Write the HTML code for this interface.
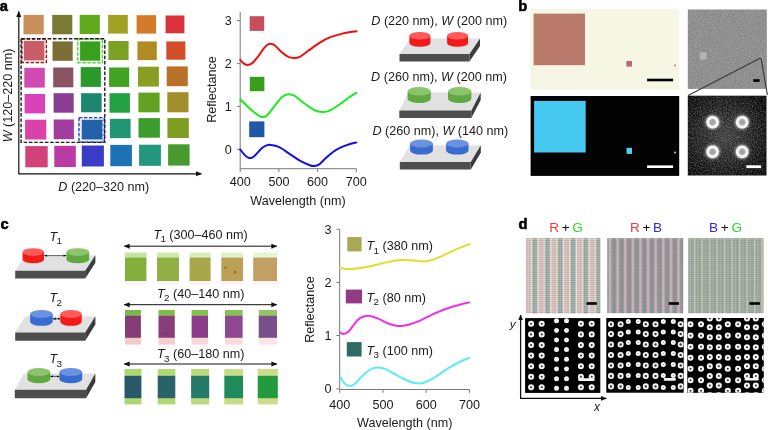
<!DOCTYPE html>
<html lang="en"><head><meta charset="utf-8"><title>Figure</title>
<style>html,body{margin:0;padding:0;background:#fff;}body{width:768px;height:430px;overflow:hidden;}svg{display:block;font-family:'Liberation Sans', Arial, sans-serif;}</style></head><body>
<svg width="768" height="430" viewBox="0 0 768 430">
<defs>
<marker id="ah" viewBox="0 0 10 10" refX="9" refY="5" markerWidth="6" markerHeight="5.6" orient="auto-start-reverse" preserveAspectRatio="none" markerUnits="userSpaceOnUse"><path d="M0 0.5 L10 5 L0 9.5 z" fill="#111"/></marker>
<marker id="ahs" viewBox="0 0 10 10" refX="9" refY="5" markerWidth="3" markerHeight="3" orient="auto-start-reverse" preserveAspectRatio="none" markerUnits="userSpaceOnUse"><path d="M0 1 L10 5 L0 9 z" fill="#111"/></marker>
<pattern id="pd1" width="12.76" height="1.9" patternUnits="userSpaceOnUse" x="525.8" y="238.1"><rect width="12.76" height="1.9" fill="#e4e4de"/><rect x="0.2" width="4.9" height="1.9" fill="#c7a7a5"/><rect x="2.35" width="0.6" height="1.9" fill="#dcc8c4"/><rect x="6.5" width="4.9" height="1.9" fill="#81908a"/><rect x="8.65" width="0.6" height="1.9" fill="#a9b6ae"/><rect x="0" y="1.35" width="12.76" height="0.55" fill="#f4f2ee" opacity="0.7"/></pattern>
<pattern id="pd2" width="7.62" height="1.9" patternUnits="userSpaceOnUse" x="608.85" y="238.1"><rect width="7.62" height="1.9" fill="#878d92"/><rect x="0" width="2.5" height="1.9" fill="#cbafb2"/><rect x="2.5" width="0.5" height="1.9" fill="#a89a9c"/><rect x="7.12" width="0.5" height="1.9" fill="#a89a9c"/><rect x="4.9" width="0.6" height="1.9" fill="#7d858e"/><rect x="0" y="1.35" width="7.62" height="0.55" fill="#c4c0c2" opacity="0.4"/></pattern>
<pattern id="pd3" width="7.5" height="1.9" patternUnits="userSpaceOnUse" x="686.3" y="238.1"><rect width="7.5" height="1.9" fill="#8f9b96"/><rect x="0" width="1.5" height="1.9" fill="#bec6ae"/><rect x="3.6" width="1.0" height="1.9" fill="#a4ada2"/><rect x="0" y="1.3" width="7.5" height="0.6" fill="#d2d6c4" opacity="0.5"/></pattern>
<radialGradient id="semglow" cx="0.47" cy="0.5" r="0.62"><stop offset="0" stop-color="#3c3c3c"/><stop offset="0.5" stop-color="#222"/><stop offset="1" stop-color="#060606"/></radialGradient>
<radialGradient id="ringg" cx="0.5" cy="0.5" r="0.5"><stop offset="0" stop-color="#9c9c9c"/><stop offset="0.36" stop-color="#acacac"/><stop offset="0.56" stop-color="#f6f6f6"/><stop offset="0.8" stop-color="#f4f4f4"/><stop offset="1" stop-color="#9a9a9a" stop-opacity="0.1"/></radialGradient>
<filter id="noiseTop" color-interpolation-filters="sRGB" x="0" y="0" width="100%" height="100%"><feTurbulence type="fractalNoise" baseFrequency="0.85" numOctaves="2" seed="3"/><feColorMatrix type="matrix" values="0.2 0 0 0 0.465  0.2 0 0 0 0.465  0.2 0 0 0 0.465  0 0 0 0 1"/><feComposite in2="SourceGraphic" operator="in"/></filter>
<filter id="noiseBot" color-interpolation-filters="sRGB" x="0" y="0" width="100%" height="100%"><feTurbulence type="fractalNoise" baseFrequency="0.8" numOctaves="2" seed="11"/><feColorMatrix type="matrix" values="0 0 0 0 1  0 0 0 0 1  0 0 0 0 1  1.2 0 0 0 -0.45"/><feComposite in2="SourceGraphic" operator="in"/></filter>
<filter id="halo" x="-50%" y="-50%" width="200%" height="200%"><feGaussianBlur stdDeviation="1.3"/></filter>
<filter id="soft"><feGaussianBlur stdDeviation="0.35"/></filter>
<filter id="soft2"><feGaussianBlur stdDeviation="0.5"/></filter>
</defs>
<rect width="768" height="430" fill="#fff"/>
<text x="-0.2" y="10.6" font-size="14.7" text-anchor="start" font-weight="bold" font-style="normal" fill="#000" stroke="#000" stroke-width="0.55" stroke-linejoin="round">a</text>
<g filter="url(#soft)">
<rect x="23.5" y="14.9" width="20.2" height="19.4" fill="#c98f5a" />
<rect x="52.2" y="14.9" width="20.1" height="19.4" fill="#7a7a30" />
<rect x="79.7" y="14.9" width="20.1" height="19.1" fill="#62a81a" />
<rect x="108.1" y="14.9" width="19.7" height="18.7" fill="#a3a022" />
<rect x="136.6" y="15.2" width="19.5" height="18.4" fill="#d27a2a" />
<rect x="165.6" y="15.5" width="18.8" height="17.8" fill="#d93238" />
<rect x="23.9" y="41" width="20.5" height="19.5" fill="#c85f68" />
<rect x="52.5" y="41.4" width="20.2" height="19.4" fill="#7a6e36" />
<rect x="80.1" y="41.4" width="20.1" height="19.3" fill="#38a01a" />
<rect x="108.4" y="41" width="20.2" height="19.1" fill="#7aa222" />
<rect x="137.4" y="41.4" width="19.4" height="18.7" fill="#b08c22" />
<rect x="166.3" y="41.4" width="19.1" height="18.3" fill="#d0502a" />
<rect x="24.3" y="67.8" width="20.5" height="19.8" fill="#d24ab2" />
<rect x="53.2" y="67.5" width="20.1" height="19.8" fill="#8a5262" />
<rect x="80.7" y="67.1" width="20.2" height="19.8" fill="#2a9a2a" />
<rect x="109.1" y="67.5" width="20.1" height="19.4" fill="#42a222" />
<rect x="138" y="66.7" width="20.9" height="19.9" fill="#8a9e22" />
<rect x="166.7" y="66.4" width="21.1" height="19.8" fill="#ba722a" />
<rect x="24.6" y="94" width="20.5" height="19.4" fill="#da42ba" />
<rect x="53.6" y="93.2" width="20.1" height="19.5" fill="#8a3e92" />
<rect x="81.1" y="93.2" width="20.5" height="19.1" fill="#1a866e" />
<rect x="109.5" y="93.2" width="20.4" height="19.5" fill="#22a242" />
<rect x="138.4" y="92.6" width="21.2" height="19.7" fill="#62a222" />
<rect x="167.3" y="92.2" width="21.2" height="20.1" fill="#a28e2a" />
<rect x="25.1" y="119.7" width="21.2" height="19.8" fill="#da42aa" />
<rect x="53.7" y="119.5" width="20.2" height="19.7" fill="#a23a9e" />
<rect x="81.7" y="119.7" width="21" height="19.8" fill="#2260aa" />
<rect x="109.9" y="118.8" width="20.7" height="19.4" fill="#229672" />
<rect x="138.5" y="118.1" width="21.4" height="19.6" fill="#3c9c2e" />
<rect x="167.4" y="118.1" width="21.4" height="19.9" fill="#7e9e22" />
<rect x="25.3" y="146.1" width="22.4" height="21.2" fill="#d2427a" />
<rect x="54.3" y="145.8" width="21.5" height="21.2" fill="#ba3aa2" />
<rect x="81.8" y="145.5" width="22.1" height="21" fill="#3a3aca" />
<rect x="110.3" y="144.9" width="21.6" height="21.3" fill="#1a72b2" />
<rect x="139.1" y="144.7" width="21.8" height="21.1" fill="#20967e" />
<rect x="168.1" y="144.3" width="21.5" height="21.3" fill="#489a2e" />
</g>
<rect x="22" y="39.1" width="24.3" height="23.4" fill="none" stroke="#9c1414" stroke-width="1.5" stroke-dasharray="3.4 1.6"/>
<rect x="23.15" y="40.25" width="22" height="21.1" fill="none" stroke="#fbdcdc" stroke-width="1.0" stroke-dasharray="3.4 1.6"/>
<rect x="77.8" y="39.1" width="24.6" height="23.7" fill="none" stroke="#50d23a" stroke-width="1.5" stroke-dasharray="3.4 1.6"/>
<rect x="78.95" y="40.25" width="22.3" height="21.4" fill="none" stroke="#e4f8d8" stroke-width="1.0" stroke-dasharray="3.4 1.6"/>
<rect x="79" y="117.8" width="25.2" height="24.1" fill="none" stroke="#2c3cc4" stroke-width="1.5" stroke-dasharray="3.4 1.6"/>
<rect x="80.15" y="118.95" width="22.9" height="21.8" fill="none" stroke="#d4dcf8" stroke-width="1.0" stroke-dasharray="3.4 1.6"/>
<rect x="21.1" y="38.7" width="83.7" height="103.7" fill="none" stroke="#1c1c1c" stroke-width="1.4" stroke-dasharray="3.6 1.7"/>
<path d="M18.8 11.6 V173.8 H201.4" fill="none" stroke="#111" stroke-width="1.2" marker-start="url(#ah)" marker-end="url(#ah)"/>
<text x="0" y="0" font-size="12.6" text-anchor="middle" font-weight="normal" font-style="normal" fill="#1a1a1a" transform="translate(11.5 95.4) rotate(-90)"><tspan font-style="italic">W</tspan> (120–220 nm)</text>
<text x="103.8" y="191.2" font-size="12.6" text-anchor="middle" font-weight="normal" font-style="normal" fill="#1a1a1a" ><tspan font-style="italic">D</tspan> (220–320 nm)</text>
<path d="M240.2 12 V168.7 H356.4" fill="none" stroke="#7a7a7a" stroke-width="1"/>
<path d="M237 20.6 H240.2" stroke="#7a7a7a" stroke-width="1"/>
<text x="231.8" y="24.9" font-size="12.6" text-anchor="end" font-weight="normal" font-style="normal" fill="#1a1a1a" >3</text>
<path d="M237 63.6 H240.2" stroke="#7a7a7a" stroke-width="1"/>
<text x="231.8" y="67.9" font-size="12.6" text-anchor="end" font-weight="normal" font-style="normal" fill="#1a1a1a" >2</text>
<path d="M237 106.4 H240.2" stroke="#7a7a7a" stroke-width="1"/>
<text x="231.8" y="110.7" font-size="12.6" text-anchor="end" font-weight="normal" font-style="normal" fill="#1a1a1a" >1</text>
<path d="M237 149.3 H240.2" stroke="#7a7a7a" stroke-width="1"/>
<text x="231.8" y="153.6" font-size="12.6" text-anchor="end" font-weight="normal" font-style="normal" fill="#1a1a1a" >0</text>
<path d="M240.2 168.7 V172" stroke="#7a7a7a" stroke-width="1"/>
<text x="240.2" y="186.4" font-size="12.6" text-anchor="middle" font-weight="normal" font-style="normal" fill="#1a1a1a" >400</text>
<path d="M278.9 168.7 V172" stroke="#7a7a7a" stroke-width="1"/>
<text x="278.9" y="186.4" font-size="12.6" text-anchor="middle" font-weight="normal" font-style="normal" fill="#1a1a1a" >500</text>
<path d="M317.6 168.7 V172" stroke="#7a7a7a" stroke-width="1"/>
<text x="317.6" y="186.4" font-size="12.6" text-anchor="middle" font-weight="normal" font-style="normal" fill="#1a1a1a" >600</text>
<path d="M356.3 168.7 V172" stroke="#7a7a7a" stroke-width="1"/>
<text x="356.3" y="186.4" font-size="12.6" text-anchor="middle" font-weight="normal" font-style="normal" fill="#1a1a1a" >700</text>
<text x="0" y="0" font-size="12.6" text-anchor="middle" font-weight="normal" font-style="normal" fill="#1a1a1a" transform="translate(215.5 89.5) rotate(-90)">Reflectance</text>
<text x="298" y="205" font-size="12.6" text-anchor="middle" font-weight="normal" font-style="normal" fill="#1a1a1a" >Wavelength (nm)</text>
<path d="M240.2 59.9 C240.75 60.48 242.3 62.57 243.5 63.4 C244.7 64.23 246 64.9 247.4 64.9 C248.8 64.9 250.17 64.73 251.9 63.4 C253.63 62.07 255.85 59.35 257.8 56.9 C259.75 54.45 261.98 50.72 263.6 48.7 C265.22 46.68 266.33 45.63 267.5 44.8 C268.67 43.97 269.42 43.63 270.6 43.7 C271.78 43.77 272.83 43.85 274.6 45.2 C276.37 46.55 278.98 49.88 281.2 51.8 C283.42 53.72 285.8 55.65 287.9 56.7 C290 57.75 291.83 58.07 293.8 58.1 C295.77 58.13 297.33 58.08 299.7 56.9 C302.07 55.72 304.65 53.38 308 51 C311.35 48.62 316.17 44.87 319.8 42.6 C323.43 40.33 325.9 38.93 329.8 37.4 C333.7 35.87 338.73 34.43 343.2 33.4 C347.67 32.37 354.37 31.57 356.6 31.2" fill="none" stroke="#f20d0d" stroke-width="2" stroke-linecap="round"/>
<path d="M240.3 99.3 C241.37 100.37 244.2 103.38 246.7 105.7 C249.2 108.02 253.08 111.43 255.3 113.2 C257.52 114.97 258.65 115.67 260 116.3 C261.35 116.93 262.2 117.18 263.4 117 C264.6 116.82 265.17 117.27 267.2 115.2 C269.23 113.13 273.13 107.63 275.6 104.6 C278.07 101.57 279.87 98.72 282 97 C284.13 95.28 286.25 94.47 288.4 94.3 C290.55 94.13 292.22 94.47 294.9 96 C297.58 97.53 301.3 101.17 304.5 103.5 C307.7 105.83 311.07 108.57 314.1 110 C317.13 111.43 320.02 112.03 322.7 112.1 C325.38 112.17 327.17 111.83 330.2 110.4 C333.23 108.97 337.7 105.72 340.9 103.5 C344.1 101.28 346.83 98.88 349.4 97.1 C351.97 95.32 355.15 93.52 356.3 92.8" fill="none" stroke="#18ee18" stroke-width="2" stroke-linecap="round"/>
<path d="M240.3 149.6 C241.02 150.48 243.28 153.57 244.6 154.9 C245.92 156.23 247.17 157.08 248.2 157.6 C249.23 158.12 249.8 158.23 250.8 158 C251.8 157.77 252.38 157.82 254.2 156.2 C256.02 154.58 259.73 150.07 261.7 148.3 C263.67 146.53 264.48 146.17 266 145.6 C267.52 145.03 268.67 144.7 270.8 144.9 C272.93 145.1 275.68 145.32 278.8 146.8 C281.92 148.28 285.93 151.45 289.5 153.8 C293.07 156.15 296.82 159 300.2 160.9 C303.58 162.8 307.48 164.35 309.8 165.2 C312.12 166.05 312.52 166.15 314.1 166 C315.68 165.85 317.33 165.62 319.3 164.3 C321.27 162.98 323.55 160.2 325.9 158.1 C328.25 156 330.9 153.48 333.4 151.7 C335.9 149.92 338.23 148.65 340.9 147.4 C343.57 146.15 346.83 145.02 349.4 144.2 C351.97 143.38 355.15 142.78 356.3 142.5" fill="none" stroke="#1010e8" stroke-width="2" stroke-linecap="round"/>
<rect x="249.7" y="16.2" width="14.5" height="14.7" fill="#c84e5e" />
<rect x="249.8" y="76.8" width="14.6" height="14.4" fill="#3a9e1c" />
<rect x="249.2" y="121.4" width="15.2" height="15.8" fill="#2058a6" />
<text x="439.2" y="25.2" font-size="12.6" text-anchor="middle" font-weight="normal" font-style="normal" fill="#1a1a1a" ><tspan font-style="italic">D</tspan> (220 nm), <tspan font-style="italic">W</tspan> (200 nm)</text>
<polygon points="410,38.5 480,38.5 469.5,54.1 399.5,54.1" fill="#e1e1e1"/>
<polygon points="399.5,54.1 469.5,54.1 469.5,61.6 399.5,61.6" fill="#4d4d4d"/>
<polygon points="469.5,54.1 480,38.5 480,46 469.5,61.6" fill="#3c3c3c"/>
<path d="M409.4 35.8 v7.2 a10.5 3.8 0 0 0 21 0 v-7.2 z" fill="#f41a1a"/>
<ellipse cx="419.9" cy="35.8" rx="10.5" ry="3.8" fill="#ff5a5a"/>
<path d="M447.1 35.8 v7.2 a10.5 3.8 0 0 0 21 0 v-7.2 z" fill="#f41a1a"/>
<ellipse cx="457.6" cy="35.8" rx="10.5" ry="3.8" fill="#ff5a5a"/>
<text x="439" y="81.2" font-size="12.6" text-anchor="middle" font-weight="normal" font-style="normal" fill="#1a1a1a" ><tspan font-style="italic">D</tspan> (260 nm), <tspan font-style="italic">W</tspan> (200 nm)</text>
<polygon points="408.6,92.6 480.7,92.6 471.4,110.6 399.3,110.6" fill="#e1e1e1"/>
<polygon points="399.3,110.6 471.4,110.6 471.4,118.1 399.3,118.1" fill="#4d4d4d"/>
<polygon points="471.4,110.6 480.7,92.6 480.7,100.1 471.4,118.1" fill="#3c3c3c"/>
<path d="M407.6 91.2 v7.5 a11.6 4.3 0 0 0 23.2 0 v-7.5 z" fill="#62a840"/>
<ellipse cx="419.2" cy="91.2" rx="11.6" ry="4.3" fill="#8cc46e"/>
<path d="M448 91.2 v7.5 a11.7 4.3 0 0 0 23.4 0 v-7.5 z" fill="#62a840"/>
<ellipse cx="459.7" cy="91.2" rx="11.7" ry="4.3" fill="#8cc46e"/>
<text x="440.3" y="134.9" font-size="12.6" text-anchor="middle" font-weight="normal" font-style="normal" fill="#1a1a1a" ><tspan font-style="italic">D</tspan> (260 nm), <tspan font-style="italic">W</tspan> (140 nm)</text>
<polygon points="409.8,145.3 480.8,145.3 470.8,162.1 399.8,162.1" fill="#e1e1e1"/>
<polygon points="399.8,162.1 470.8,162.1 470.8,169.6 399.8,169.6" fill="#4d4d4d"/>
<polygon points="470.8,162.1 480.8,145.3 480.8,152.8 470.8,169.6" fill="#3c3c3c"/>
<path d="M410.1 143.5 v7.1 a11.4 4 0 0 0 22.8 0 v-7.1 z" fill="#3a6cd0"/>
<ellipse cx="421.5" cy="143.5" rx="11.4" ry="4" fill="#6a92e0"/>
<path d="M446.1 143.5 v7.1 a11.2 4 0 0 0 22.4 0 v-7.1 z" fill="#3a6cd0"/>
<ellipse cx="457.3" cy="143.5" rx="11.2" ry="4" fill="#6a92e0"/>
<text x="518.2" y="10.6" font-size="14.7" text-anchor="start" font-weight="bold" font-style="normal" fill="#000" stroke="#000" stroke-width="0.55" stroke-linejoin="round">b</text>
<rect x="530.4" y="8.8" width="148.8" height="80.7" fill="#f6f6e4" />
<rect x="533.6" y="13.6" width="51.4" height="51.6" fill="#b97a6c" filter="url(#soft)"/>
<rect x="626.4" y="61" width="5.6" height="5.6" fill="#b56a78" filter="url(#soft)"/>
<circle cx="675" cy="65.6" r="1" fill="#c07a80"/>
<rect x="647.1" y="78.7" width="26" height="2.6" fill="#000" />
<rect x="530.6" y="96" width="148.6" height="79.9" fill="#030303" />
<rect x="534.1" y="100.9" width="51.6" height="51.6" fill="#45c9f0" filter="url(#soft)"/>
<rect x="626.5" y="147.8" width="5.5" height="6.1" fill="#52cdf0" filter="url(#soft)"/>
<circle cx="675" cy="152.6" r="1.1" fill="#58d8d8"/>
<rect x="647.1" y="165.4" width="26" height="2.6" fill="#fff" />
<rect x="687.9" y="9.7" width="78.7" height="79" fill="#909090" />
<rect x="687.9" y="9.7" width="78.7" height="79" fill="#909090" filter="url(#noiseTop)"/>
<rect x="699.8" y="52.4" width="6.8" height="7" fill="#b4b4b4" filter="url(#soft)"/>
<circle cx="761.2" cy="57.6" r="1.2" fill="#d0d0d0"/>
<path d="M688 95.4 L761 57.8 L767.4 95" fill="none" stroke="#3a3a3a" stroke-width="1.15" stroke-linejoin="round"/>
<rect x="753.3" y="79.2" width="6.3" height="2.7" fill="#000" />
<rect x="687.8" y="95.7" width="78.7" height="79.8" fill="url(#semglow)" />
<rect x="687.8" y="95.7" width="78.7" height="79.8" fill="#fff" filter="url(#noiseBot)" opacity="0.5"/>
<circle cx="712.6" cy="122.2" r="8" fill="#fff" opacity="0.35" filter="url(#halo)"/>
<circle cx="712.6" cy="122.2" r="7.3" fill="url(#ringg)"/>
<circle cx="712.6" cy="151.8" r="8" fill="#fff" opacity="0.35" filter="url(#halo)"/>
<circle cx="712.6" cy="151.8" r="7.3" fill="url(#ringg)"/>
<circle cx="742.2" cy="122.2" r="8" fill="#fff" opacity="0.35" filter="url(#halo)"/>
<circle cx="742.2" cy="122.2" r="7.3" fill="url(#ringg)"/>
<circle cx="742.2" cy="151.8" r="8" fill="#fff" opacity="0.35" filter="url(#halo)"/>
<circle cx="742.2" cy="151.8" r="7.3" fill="url(#ringg)"/>
<rect x="746.3" y="165.3" width="14.9" height="2.8" fill="#fff" />
<text x="0.4" y="228.7" font-size="14.7" text-anchor="start" font-weight="bold" font-style="normal" fill="#000" stroke="#000" stroke-width="0.55" stroke-linejoin="round">c</text>
<text x="49.6" y="240.8" font-size="12.6" text-anchor="start" font-weight="normal" font-style="normal" fill="#1a1a1a" ><tspan font-style="italic">T</tspan><tspan font-size="9.83" dy="3.3" dx="-0.7">1</tspan><tspan dy="-3.3"></tspan></text>
<polygon points="25.4,255.2 95.4,255.2 85.2,270.8 15.2,270.8" fill="#e1e1e1"/>
<polygon points="15.2,270.8 85.2,270.8 85.2,278.4 15.2,278.4" fill="#4d4d4d"/>
<polygon points="85.2,270.8 95.4,255.2 95.4,262.8 85.2,278.4" fill="#3c3c3c"/>
<path d="M22.6 252.1 v7.3 a10.7 3.9 0 0 0 21.4 0 v-7.3 z" fill="#f41a1a"/>
<ellipse cx="33.3" cy="252.1" rx="10.7" ry="3.9" fill="#ff5a5a"/>
<path d="M66.5 252.1 v7.3 a11.3 3.9 0 0 0 22.6 0 v-7.3 z" fill="#62a840"/>
<ellipse cx="77.8" cy="252.1" rx="11.3" ry="3.9" fill="#8cc46e"/>
<path d="M44.4 255.6 H66.2" stroke="#555" stroke-width="0.9" marker-start="url(#ahs)" marker-end="url(#ahs)"/>
<text x="49.6" y="302.2" font-size="12.6" text-anchor="start" font-weight="normal" font-style="normal" fill="#1a1a1a" ><tspan font-style="italic">T</tspan><tspan font-size="9.83" dy="3.3" dx="-0.7">2</tspan><tspan dy="-3.3"></tspan></text>
<polygon points="25.4,316.3 95.4,316.3 85.2,332.6 15.2,332.6" fill="#e1e1e1"/>
<polygon points="15.2,332.6 85.2,332.6 85.2,340.8 15.2,340.8" fill="#4d4d4d"/>
<polygon points="85.2,332.6 95.4,316.3 95.4,324.5 85.2,340.8" fill="#3c3c3c"/>
<path d="M30.1 314 v7.8 a11.3 4 0 0 0 22.6 0 v-7.8 z" fill="#3a6cd0"/>
<ellipse cx="41.4" cy="314" rx="11.3" ry="4" fill="#6a92e0"/>
<path d="M60.3 314 v7.8 a10.7 4 0 0 0 21.4 0 v-7.8 z" fill="#f41a1a"/>
<ellipse cx="71" cy="314" rx="10.7" ry="4" fill="#ff5a5a"/>
<path d="M52.9 318.8 H60.2" stroke="#333" stroke-width="0.8" marker-start="url(#ahs)" marker-end="url(#ahs)"/>
<text x="49.6" y="363.2" font-size="12.6" text-anchor="start" font-weight="normal" font-style="normal" fill="#1a1a1a" ><tspan font-style="italic">T</tspan><tspan font-size="9.83" dy="3.3" dx="-0.7">3</tspan><tspan dy="-3.3"></tspan></text>
<polygon points="24,373.4 95.3,373.4 86.1,389.7 14.8,389.7" fill="#e1e1e1"/>
<polygon points="14.8,389.7 86.1,389.7 86.1,398.3 14.8,398.3" fill="#4d4d4d"/>
<polygon points="86.1,389.7 95.3,373.4 95.3,382 86.1,398.3" fill="#3c3c3c"/>
<path d="M27.5 372 v7.2 a11.4 4 0 0 0 22.8 0 v-7.2 z" fill="#62a840"/>
<ellipse cx="38.9" cy="372" rx="11.4" ry="4" fill="#8cc46e"/>
<path d="M59.4 372 v7.2 a11.4 4 0 0 0 22.8 0 v-7.2 z" fill="#3a6cd0"/>
<ellipse cx="70.8" cy="372" rx="11.4" ry="4" fill="#6a92e0"/>
<path d="M50.5 376.4 H59.2" stroke="#333" stroke-width="0.8" marker-start="url(#ahs)" marker-end="url(#ahs)"/>
<text x="200.6" y="239" font-size="12.6" text-anchor="middle" font-weight="normal" font-style="normal" fill="#1a1a1a" ><tspan font-style="italic">T</tspan><tspan font-size="9.83" dy="3.3" dx="-0.7">1</tspan><tspan dy="-3.3"> (300–460 nm)</tspan></text>
<path d="M124.2 246.2 H276.8" stroke="#111" stroke-width="1" marker-start="url(#ah)" marker-end="url(#ah)"/>
<g filter="url(#soft)">
<rect x="125" y="252.6" width="21.4" height="5.6" fill="#c4e69c" />
<rect x="125" y="257.6" width="21.4" height="23.6" fill="#82b03a" />
<rect x="125" y="281.2" width="21.4" height="3.8" fill="#fef3f5" />
<rect x="157" y="252.6" width="22" height="5.6" fill="#cdeaa8" />
<rect x="157" y="257.6" width="22" height="23.6" fill="#90b044" />
<rect x="157" y="281.2" width="22" height="3.8" fill="#fef3f5" />
<rect x="189.6" y="252.6" width="21" height="5.6" fill="#d6eeb8" />
<rect x="189.6" y="257.6" width="21" height="23.6" fill="#a8a84c" />
<rect x="189.6" y="281.2" width="21" height="3.8" fill="#fef3f5" />
<rect x="221.3" y="252.6" width="21.8" height="5.6" fill="#dff2c8" />
<rect x="221.3" y="257.6" width="21.8" height="23.6" fill="#baa156" />
<rect x="221.3" y="281.2" width="21.8" height="3.8" fill="#fef3f5" />
<rect x="253.2" y="252.6" width="23.8" height="5.6" fill="#e6f5d4" />
<rect x="253.2" y="257.6" width="23.8" height="23.6" fill="#c2a064" />
<rect x="253.2" y="281.2" width="23.8" height="3.8" fill="#fef3f5" />
<circle cx="225.4" cy="267.6" r="1.2" fill="#8c7624"/><circle cx="235" cy="272" r="1.5" fill="#8c7624"/>
</g>
<text x="200.8" y="298" font-size="12.6" text-anchor="middle" font-weight="normal" font-style="normal" fill="#1a1a1a" ><tspan font-style="italic">T</tspan><tspan font-size="9.83" dy="3.3" dx="-0.7">2</tspan><tspan dy="-3.3"> (40–140 nm)</tspan></text>
<path d="M124.2 304.7 H276.8" stroke="#111" stroke-width="1" marker-start="url(#ah)" marker-end="url(#ah)"/>
<g filter="url(#soft)">
<rect x="125" y="310" width="15.9" height="6.2" fill="#7cb848" />
<rect x="125" y="315.8" width="15.9" height="22.2" fill="#843c78" />
<rect x="125" y="337.8" width="15.9" height="6.8" fill="#f2cbc6" />
<rect x="158.5" y="310" width="16.3" height="6.2" fill="#80ba4c" />
<rect x="158.5" y="315.8" width="16.3" height="22.2" fill="#8a3e7c" />
<rect x="158.5" y="337.8" width="16.3" height="6.8" fill="#f4cfcc" />
<rect x="191.6" y="310" width="16.4" height="6.2" fill="#86be50" />
<rect x="191.6" y="315.8" width="16.4" height="22.2" fill="#8c3e8a" />
<rect x="191.6" y="337.8" width="16.4" height="6.8" fill="#f8d8d8" />
<rect x="225" y="310" width="17.6" height="6.2" fill="#88c058" />
<rect x="225" y="315.8" width="17.6" height="22.2" fill="#904692" />
<rect x="225" y="337.8" width="17.6" height="6.8" fill="#f9dcdc" />
<rect x="258.7" y="310" width="18.3" height="6.2" fill="#94c466" />
<rect x="258.7" y="315.8" width="18.3" height="22.2" fill="#78508a" />
<rect x="258.7" y="337.8" width="18.3" height="6.8" fill="#fbe4e6" />
<circle cx="165.3" cy="333.2" r="1.4" fill="#6a2c6a" opacity="0.7"/>
</g>
<text x="200.8" y="358.4" font-size="12.6" text-anchor="middle" font-weight="normal" font-style="normal" fill="#1a1a1a" ><tspan font-style="italic">T</tspan><tspan font-size="9.83" dy="3.3" dx="-0.7">3</tspan><tspan dy="-3.3"> (60–180 nm)</tspan></text>
<path d="M124.2 364 H276.8" stroke="#111" stroke-width="1" marker-start="url(#ah)" marker-end="url(#ah)"/>
<g filter="url(#soft)">
<rect x="124.5" y="369" width="16.9" height="7.2" fill="#acd870" />
<rect x="124.5" y="398" width="16.9" height="6.4" fill="#acd870" />
<rect x="124.5" y="375.8" width="16.9" height="22.4" fill="#2c586a" />
<rect x="157.7" y="369" width="17.6" height="7.2" fill="#b2d874" />
<rect x="157.7" y="398" width="17.6" height="6.4" fill="#b2d874" />
<rect x="157.7" y="375.8" width="17.6" height="22.4" fill="#2c626a" />
<rect x="191.1" y="369" width="18.1" height="7.2" fill="#bcda7c" />
<rect x="191.1" y="398" width="18.1" height="6.4" fill="#bcda7c" />
<rect x="191.1" y="375.8" width="18.1" height="22.4" fill="#287a6a" />
<rect x="224.3" y="369" width="18.8" height="7.2" fill="#c8dc86" />
<rect x="224.3" y="398" width="18.8" height="6.4" fill="#c8dc86" />
<rect x="224.3" y="375.8" width="18.8" height="22.4" fill="#208a5a" />
<rect x="257.7" y="369" width="20.1" height="7.2" fill="#ccdc8a" />
<rect x="257.7" y="398" width="20.1" height="6.4" fill="#ccdc8a" />
<rect x="257.7" y="375.8" width="20.1" height="22.4" fill="#209a3c" />
</g>
<path d="M339.7 229.3 V389.5 H469.6" fill="none" stroke="#7a7a7a" stroke-width="1"/>
<path d="M336.4 229.3 H339.7" stroke="#7a7a7a" stroke-width="1"/>
<text x="331.6" y="233.7" font-size="12.6" text-anchor="end" font-weight="normal" font-style="normal" fill="#1a1a1a" >3</text>
<path d="M336.4 282.4 H339.7" stroke="#7a7a7a" stroke-width="1"/>
<text x="331.6" y="286.8" font-size="12.6" text-anchor="end" font-weight="normal" font-style="normal" fill="#1a1a1a" >2</text>
<path d="M336.4 335.5 H339.7" stroke="#7a7a7a" stroke-width="1"/>
<text x="331.6" y="339.9" font-size="12.6" text-anchor="end" font-weight="normal" font-style="normal" fill="#1a1a1a" >1</text>
<path d="M336.4 388.9 H339.7" stroke="#7a7a7a" stroke-width="1"/>
<text x="331.6" y="393.3" font-size="12.6" text-anchor="end" font-weight="normal" font-style="normal" fill="#1a1a1a" >0</text>
<path d="M339.7 389.5 V392.8" stroke="#7a7a7a" stroke-width="1"/>
<text x="339.7" y="408.8" font-size="12.6" text-anchor="middle" font-weight="normal" font-style="normal" fill="#1a1a1a" >400</text>
<path d="M383 389.5 V392.8" stroke="#7a7a7a" stroke-width="1"/>
<text x="383" y="408.8" font-size="12.6" text-anchor="middle" font-weight="normal" font-style="normal" fill="#1a1a1a" >500</text>
<path d="M426.2 389.5 V392.8" stroke="#7a7a7a" stroke-width="1"/>
<text x="426.2" y="408.8" font-size="12.6" text-anchor="middle" font-weight="normal" font-style="normal" fill="#1a1a1a" >600</text>
<path d="M469.5 389.5 V392.8" stroke="#7a7a7a" stroke-width="1"/>
<text x="469.5" y="408.8" font-size="12.6" text-anchor="middle" font-weight="normal" font-style="normal" fill="#1a1a1a" >700</text>
<text x="0" y="0" font-size="12.6" text-anchor="middle" font-weight="normal" font-style="normal" fill="#1a1a1a" transform="translate(314.2 309.6) rotate(-90)">Reflectance</text>
<text x="404.8" y="426.7" font-size="12.6" text-anchor="middle" font-weight="normal" font-style="normal" fill="#1a1a1a" >Wavelength (nm)</text>
<path d="M339.9 267.7 C341.02 267.9 343.75 268.77 346.6 268.9 C349.45 269.03 352.82 268.98 357 268.5 C361.18 268.02 366.82 267.02 371.7 266 C376.58 264.98 382.25 263.33 386.3 262.4 C390.35 261.47 393.22 260.82 396 260.4 C398.78 259.98 400.08 259.88 403 259.9 C405.92 259.92 410.67 260.27 413.5 260.5 C416.33 260.73 418 261.18 420 261.3 C422 261.42 423.1 261.57 425.5 261.2 C427.9 260.83 430.82 260.37 434.4 259.1 C437.98 257.83 442.82 255.48 447 253.6 C451.18 251.72 455.73 249.37 459.5 247.8 C463.27 246.23 467.92 244.8 469.6 244.2" fill="none" stroke="#e2dc2c" stroke-width="2" stroke-linecap="round"/>
<path d="M340.3 332.7 C340.65 332.88 341.62 333.65 342.4 333.8 C343.18 333.95 343.88 334.07 345 333.6 C346.12 333.13 347.25 332.95 349.1 331 C350.95 329.05 354.28 324.03 356.1 321.9 C357.92 319.77 358.6 319.15 360 318.2 C361.4 317.25 362.83 316.58 364.5 316.2 C366.17 315.82 367.72 315.5 370 315.9 C372.28 316.3 375.28 317.38 378.2 318.6 C381.12 319.82 384.7 322.05 387.5 323.2 C390.3 324.35 392.75 325.03 395 325.5 C397.25 325.97 398.77 326.12 401 326 C403.23 325.88 405.23 325.7 408.4 324.8 C411.57 323.9 416.12 322.27 420 320.6 C423.88 318.93 427.43 316.73 431.7 314.8 C435.97 312.87 440.95 310.67 445.6 309 C450.25 307.33 455.65 305.9 459.6 304.8 C463.55 303.7 467.68 302.8 469.3 302.4" fill="none" stroke="#ee30ee" stroke-width="2" stroke-linecap="round"/>
<path d="M340.3 376.9 C340.85 377.82 342.42 381 343.6 382.4 C344.78 383.8 346.23 384.73 347.4 385.3 C348.57 385.87 349.43 385.97 350.6 385.8 C351.77 385.63 352.32 386.07 354.4 384.3 C356.48 382.53 360.3 377.75 363.1 375.2 C365.9 372.65 369.22 370.23 371.2 369 C373.18 367.77 373.67 368.05 375 367.8 C376.33 367.55 377.32 367.23 379.2 367.5 C381.08 367.77 383.37 368.12 386.3 369.4 C389.23 370.68 393.12 373.27 396.8 375.2 C400.48 377.13 405.37 379.7 408.4 381 C411.43 382.3 413.07 382.6 415 383 C416.93 383.4 418 383.65 420 383.4 C422 383.15 424.28 382.67 427 381.5 C429.72 380.33 432.8 378.6 436.3 376.4 C439.8 374.2 444.12 370.7 448 368.3 C451.88 365.9 456.05 363.75 459.6 362 C463.15 360.25 467.68 358.5 469.3 357.8" fill="none" stroke="#58ecf4" stroke-width="2" stroke-linecap="round"/>
<rect x="347.3" y="237.1" width="14.3" height="14.3" fill="#a9a954" />
<text x="366.6" y="250.2" font-size="12.6" text-anchor="start" font-weight="normal" font-style="normal" fill="#1a1a1a" ><tspan font-style="italic">T</tspan><tspan font-size="9.83" dy="3.3" dx="-0.7">1</tspan><tspan dy="-3.3"> (380 nm)</tspan></text>
<rect x="345.8" y="289.6" width="16.3" height="13.8" fill="#923c86" />
<text x="366.6" y="301.8" font-size="12.6" text-anchor="start" font-weight="normal" font-style="normal" fill="#1a1a1a" ><tspan font-style="italic">T</tspan><tspan font-size="9.83" dy="3.3" dx="-0.7">2</tspan><tspan dy="-3.3"> (80 nm)</tspan></text>
<rect x="346.8" y="342.1" width="14.8" height="14.4" fill="#2c6c64" />
<text x="366.6" y="354.8" font-size="12.6" text-anchor="start" font-weight="normal" font-style="normal" fill="#1a1a1a" ><tspan font-style="italic">T</tspan><tspan font-size="9.83" dy="3.3" dx="-0.7">3</tspan><tspan dy="-3.3"> (100 nm)</tspan></text>
<text x="518.4" y="228.8" font-size="14.7" text-anchor="start" font-weight="bold" font-style="normal" fill="#000" stroke="#000" stroke-width="0.55" stroke-linejoin="round">d</text>
<text x="566" y="231.8" font-size="13.6" text-anchor="middle" font-weight="normal" font-style="normal" fill="#111" word-spacing="-1.1"><tspan fill="#f03a3a">R</tspan> + <tspan fill="#22dd22">G</tspan></text>
<text x="646" y="231.6" font-size="13.6" text-anchor="middle" font-weight="normal" font-style="normal" fill="#111" word-spacing="-1.1"><tspan fill="#f03a3a">R</tspan> + <tspan fill="#2a2ae6">B</tspan></text>
<text x="725.6" y="231.6" font-size="13.6" text-anchor="middle" font-weight="normal" font-style="normal" fill="#111" word-spacing="-1.1"><tspan fill="#2a2ae6">B</tspan> + <tspan fill="#22dd22">G</tspan></text>
<rect x="525.6" y="238.1" width="74.8" height="75.3" fill="url(#pd1)" />
<rect x="607.2" y="238.1" width="76" height="75.1" fill="url(#pd2)" />
<rect x="688.2" y="238.1" width="75.4" height="75.1" fill="url(#pd3)" />
<rect x="586.6" y="302.2" width="10.2" height="2.6" fill="#000" />
<rect x="668.7" y="302.2" width="10.3" height="2.6" fill="#000" />
<rect x="749.3" y="302.2" width="10.6" height="2.6" fill="#000" />
<clipPath id="c1"><rect x="525.1" y="318.1" width="75.2" height="74.8"/></clipPath>
<clipPath id="c2"><rect x="606.3" y="318" width="77.4" height="74.7"/></clipPath>
<clipPath id="c3"><rect x="687.3" y="318" width="76.5" height="74.8"/></clipPath>
<rect x="525.1" y="318.1" width="75.2" height="74.8" fill="#000" />
<rect x="606.3" y="318" width="77.4" height="74.7" fill="#000" />
<rect x="687.3" y="318" width="76.5" height="74.8" fill="#000" />
<g clip-path="url(#c1)">
<circle cx="531.1" cy="323.7" r="2.05" fill="#3c3c3c" stroke="#f4f4f4" stroke-width="2"/>
<circle cx="531.1" cy="334.4" r="2.05" fill="#3c3c3c" stroke="#f4f4f4" stroke-width="2"/>
<circle cx="531.1" cy="345.1" r="2.05" fill="#3c3c3c" stroke="#f4f4f4" stroke-width="2"/>
<circle cx="531.1" cy="355.6" r="2.05" fill="#3c3c3c" stroke="#f4f4f4" stroke-width="2"/>
<circle cx="531.1" cy="366.2" r="2.05" fill="#3c3c3c" stroke="#f4f4f4" stroke-width="2"/>
<circle cx="531.1" cy="376.8" r="2.05" fill="#3c3c3c" stroke="#f4f4f4" stroke-width="2"/>
<circle cx="531.1" cy="387.3" r="2.05" fill="#3c3c3c" stroke="#f4f4f4" stroke-width="2"/>
<circle cx="541.7" cy="323.7" r="2.05" fill="#3c3c3c" stroke="#f4f4f4" stroke-width="2"/>
<circle cx="541.7" cy="334.4" r="2.05" fill="#3c3c3c" stroke="#f4f4f4" stroke-width="2"/>
<circle cx="541.7" cy="345.1" r="2.05" fill="#3c3c3c" stroke="#f4f4f4" stroke-width="2"/>
<circle cx="541.7" cy="355.6" r="2.05" fill="#3c3c3c" stroke="#f4f4f4" stroke-width="2"/>
<circle cx="541.7" cy="366.2" r="2.05" fill="#3c3c3c" stroke="#f4f4f4" stroke-width="2"/>
<circle cx="541.7" cy="376.8" r="2.05" fill="#3c3c3c" stroke="#f4f4f4" stroke-width="2"/>
<circle cx="541.7" cy="387.3" r="2.05" fill="#3c3c3c" stroke="#f4f4f4" stroke-width="2"/>
<circle cx="580.9" cy="323.7" r="2.05" fill="#3c3c3c" stroke="#f4f4f4" stroke-width="2"/>
<circle cx="580.9" cy="334.4" r="2.05" fill="#3c3c3c" stroke="#f4f4f4" stroke-width="2"/>
<circle cx="580.9" cy="345.1" r="2.05" fill="#3c3c3c" stroke="#f4f4f4" stroke-width="2"/>
<circle cx="580.9" cy="355.6" r="2.05" fill="#3c3c3c" stroke="#f4f4f4" stroke-width="2"/>
<circle cx="580.9" cy="366.2" r="2.05" fill="#3c3c3c" stroke="#f4f4f4" stroke-width="2"/>
<circle cx="580.9" cy="376.8" r="2.05" fill="#3c3c3c" stroke="#f4f4f4" stroke-width="2"/>
<circle cx="580.9" cy="387.3" r="2.05" fill="#3c3c3c" stroke="#f4f4f4" stroke-width="2"/>
<circle cx="591.7" cy="323.7" r="2.05" fill="#3c3c3c" stroke="#f4f4f4" stroke-width="2"/>
<circle cx="591.7" cy="334.4" r="2.05" fill="#3c3c3c" stroke="#f4f4f4" stroke-width="2"/>
<circle cx="591.7" cy="345.1" r="2.05" fill="#3c3c3c" stroke="#f4f4f4" stroke-width="2"/>
<circle cx="591.7" cy="355.6" r="2.05" fill="#3c3c3c" stroke="#f4f4f4" stroke-width="2"/>
<circle cx="591.7" cy="366.2" r="2.05" fill="#3c3c3c" stroke="#f4f4f4" stroke-width="2"/>
<circle cx="591.7" cy="376.8" r="2.05" fill="#3c3c3c" stroke="#f4f4f4" stroke-width="2"/>
<circle cx="591.7" cy="387.3" r="2.05" fill="#3c3c3c" stroke="#f4f4f4" stroke-width="2"/>
<circle cx="556.5" cy="320.7" r="1.45" fill="#c8c8c8" stroke="#f4f4f4" stroke-width="2.1"/>
<circle cx="556.5" cy="330.5" r="1.45" fill="#c8c8c8" stroke="#f4f4f4" stroke-width="2.1"/>
<circle cx="556.5" cy="340" r="1.45" fill="#c8c8c8" stroke="#f4f4f4" stroke-width="2.1"/>
<circle cx="556.5" cy="349.6" r="1.45" fill="#c8c8c8" stroke="#f4f4f4" stroke-width="2.1"/>
<circle cx="556.5" cy="359.2" r="1.45" fill="#c8c8c8" stroke="#f4f4f4" stroke-width="2.1"/>
<circle cx="556.5" cy="369" r="1.45" fill="#c8c8c8" stroke="#f4f4f4" stroke-width="2.1"/>
<circle cx="556.5" cy="378.8" r="1.45" fill="#c8c8c8" stroke="#f4f4f4" stroke-width="2.1"/>
<circle cx="556.5" cy="388.2" r="1.45" fill="#c8c8c8" stroke="#f4f4f4" stroke-width="2.1"/>
<circle cx="566.5" cy="320.7" r="1.45" fill="#c8c8c8" stroke="#f4f4f4" stroke-width="2.1"/>
<circle cx="566.5" cy="330.5" r="1.45" fill="#c8c8c8" stroke="#f4f4f4" stroke-width="2.1"/>
<circle cx="566.5" cy="340" r="1.45" fill="#c8c8c8" stroke="#f4f4f4" stroke-width="2.1"/>
<circle cx="566.5" cy="349.6" r="1.45" fill="#c8c8c8" stroke="#f4f4f4" stroke-width="2.1"/>
<circle cx="566.5" cy="359.2" r="1.45" fill="#c8c8c8" stroke="#f4f4f4" stroke-width="2.1"/>
<circle cx="566.5" cy="369" r="1.45" fill="#c8c8c8" stroke="#f4f4f4" stroke-width="2.1"/>
<circle cx="566.5" cy="378.8" r="1.45" fill="#c8c8c8" stroke="#f4f4f4" stroke-width="2.1"/>
<circle cx="566.5" cy="388.2" r="1.45" fill="#c8c8c8" stroke="#f4f4f4" stroke-width="2.1"/>
</g>
<rect x="578.2" y="378.3" width="16.5" height="2.6" rx="1.2" fill="#f6f6f6"/>
<g clip-path="url(#c2)">
<circle cx="611" cy="324.2" r="2.15" fill="#3c3c3c" stroke="#f4f4f4" stroke-width="1.8"/>
<circle cx="611" cy="334.1" r="2.15" fill="#3c3c3c" stroke="#f4f4f4" stroke-width="1.8"/>
<circle cx="611" cy="344.5" r="2.15" fill="#3c3c3c" stroke="#f4f4f4" stroke-width="1.8"/>
<circle cx="611" cy="355" r="2.15" fill="#3c3c3c" stroke="#f4f4f4" stroke-width="1.8"/>
<circle cx="611" cy="365.5" r="2.15" fill="#3c3c3c" stroke="#f4f4f4" stroke-width="1.8"/>
<circle cx="611" cy="375.9" r="2.15" fill="#3c3c3c" stroke="#f4f4f4" stroke-width="1.8"/>
<circle cx="611" cy="386.4" r="2.15" fill="#3c3c3c" stroke="#f4f4f4" stroke-width="1.8"/>
<circle cx="620.6" cy="324.2" r="2.15" fill="#3c3c3c" stroke="#f4f4f4" stroke-width="1.8"/>
<circle cx="620.6" cy="334.1" r="2.15" fill="#3c3c3c" stroke="#f4f4f4" stroke-width="1.8"/>
<circle cx="620.6" cy="344.5" r="2.15" fill="#3c3c3c" stroke="#f4f4f4" stroke-width="1.8"/>
<circle cx="620.6" cy="355" r="2.15" fill="#3c3c3c" stroke="#f4f4f4" stroke-width="1.8"/>
<circle cx="620.6" cy="365.5" r="2.15" fill="#3c3c3c" stroke="#f4f4f4" stroke-width="1.8"/>
<circle cx="620.6" cy="375.9" r="2.15" fill="#3c3c3c" stroke="#f4f4f4" stroke-width="1.8"/>
<circle cx="620.6" cy="386.4" r="2.15" fill="#3c3c3c" stroke="#f4f4f4" stroke-width="1.8"/>
<circle cx="645.8" cy="324.2" r="2.15" fill="#3c3c3c" stroke="#f4f4f4" stroke-width="1.8"/>
<circle cx="645.8" cy="334.1" r="2.15" fill="#3c3c3c" stroke="#f4f4f4" stroke-width="1.8"/>
<circle cx="645.8" cy="344.5" r="2.15" fill="#3c3c3c" stroke="#f4f4f4" stroke-width="1.8"/>
<circle cx="645.8" cy="355" r="2.15" fill="#3c3c3c" stroke="#f4f4f4" stroke-width="1.8"/>
<circle cx="645.8" cy="365.5" r="2.15" fill="#3c3c3c" stroke="#f4f4f4" stroke-width="1.8"/>
<circle cx="645.8" cy="375.9" r="2.15" fill="#3c3c3c" stroke="#f4f4f4" stroke-width="1.8"/>
<circle cx="645.8" cy="386.4" r="2.15" fill="#3c3c3c" stroke="#f4f4f4" stroke-width="1.8"/>
<circle cx="655.5" cy="324.2" r="2.15" fill="#3c3c3c" stroke="#f4f4f4" stroke-width="1.8"/>
<circle cx="655.5" cy="334.1" r="2.15" fill="#3c3c3c" stroke="#f4f4f4" stroke-width="1.8"/>
<circle cx="655.5" cy="344.5" r="2.15" fill="#3c3c3c" stroke="#f4f4f4" stroke-width="1.8"/>
<circle cx="655.5" cy="355" r="2.15" fill="#3c3c3c" stroke="#f4f4f4" stroke-width="1.8"/>
<circle cx="655.5" cy="365.5" r="2.15" fill="#3c3c3c" stroke="#f4f4f4" stroke-width="1.8"/>
<circle cx="655.5" cy="375.9" r="2.15" fill="#3c3c3c" stroke="#f4f4f4" stroke-width="1.8"/>
<circle cx="655.5" cy="386.4" r="2.15" fill="#3c3c3c" stroke="#f4f4f4" stroke-width="1.8"/>
<circle cx="680.7" cy="324.2" r="2.15" fill="#3c3c3c" stroke="#f4f4f4" stroke-width="1.8"/>
<circle cx="680.7" cy="334.1" r="2.15" fill="#3c3c3c" stroke="#f4f4f4" stroke-width="1.8"/>
<circle cx="680.7" cy="344.5" r="2.15" fill="#3c3c3c" stroke="#f4f4f4" stroke-width="1.8"/>
<circle cx="680.7" cy="355" r="2.15" fill="#3c3c3c" stroke="#f4f4f4" stroke-width="1.8"/>
<circle cx="680.7" cy="365.5" r="2.15" fill="#3c3c3c" stroke="#f4f4f4" stroke-width="1.8"/>
<circle cx="680.7" cy="375.9" r="2.15" fill="#3c3c3c" stroke="#f4f4f4" stroke-width="1.8"/>
<circle cx="680.7" cy="386.4" r="2.15" fill="#3c3c3c" stroke="#f4f4f4" stroke-width="1.8"/>
<circle cx="628.3" cy="321.5" r="1.55" fill="#909090" stroke="#f4f4f4" stroke-width="1.9"/>
<circle cx="628.3" cy="332" r="1.55" fill="#909090" stroke="#f4f4f4" stroke-width="1.9"/>
<circle cx="628.3" cy="342.4" r="1.55" fill="#909090" stroke="#f4f4f4" stroke-width="1.9"/>
<circle cx="628.3" cy="353.6" r="1.55" fill="#909090" stroke="#f4f4f4" stroke-width="1.9"/>
<circle cx="628.3" cy="364.4" r="1.55" fill="#909090" stroke="#f4f4f4" stroke-width="1.9"/>
<circle cx="628.3" cy="375.6" r="1.55" fill="#909090" stroke="#f4f4f4" stroke-width="1.9"/>
<circle cx="628.3" cy="387.4" r="1.55" fill="#909090" stroke="#f4f4f4" stroke-width="1.9"/>
<circle cx="638.2" cy="321.5" r="1.55" fill="#909090" stroke="#f4f4f4" stroke-width="1.9"/>
<circle cx="638.2" cy="332" r="1.55" fill="#909090" stroke="#f4f4f4" stroke-width="1.9"/>
<circle cx="638.2" cy="342.4" r="1.55" fill="#909090" stroke="#f4f4f4" stroke-width="1.9"/>
<circle cx="638.2" cy="353.6" r="1.55" fill="#909090" stroke="#f4f4f4" stroke-width="1.9"/>
<circle cx="638.2" cy="364.4" r="1.55" fill="#909090" stroke="#f4f4f4" stroke-width="1.9"/>
<circle cx="638.2" cy="375.6" r="1.55" fill="#909090" stroke="#f4f4f4" stroke-width="1.9"/>
<circle cx="638.2" cy="387.4" r="1.55" fill="#909090" stroke="#f4f4f4" stroke-width="1.9"/>
<circle cx="663.3" cy="321.5" r="1.55" fill="#909090" stroke="#f4f4f4" stroke-width="1.9"/>
<circle cx="663.3" cy="332" r="1.55" fill="#909090" stroke="#f4f4f4" stroke-width="1.9"/>
<circle cx="663.3" cy="342.4" r="1.55" fill="#909090" stroke="#f4f4f4" stroke-width="1.9"/>
<circle cx="663.3" cy="353.6" r="1.55" fill="#909090" stroke="#f4f4f4" stroke-width="1.9"/>
<circle cx="663.3" cy="364.4" r="1.55" fill="#909090" stroke="#f4f4f4" stroke-width="1.9"/>
<circle cx="663.3" cy="375.6" r="1.55" fill="#909090" stroke="#f4f4f4" stroke-width="1.9"/>
<circle cx="663.3" cy="387.4" r="1.55" fill="#909090" stroke="#f4f4f4" stroke-width="1.9"/>
<circle cx="673.3" cy="321.5" r="1.55" fill="#909090" stroke="#f4f4f4" stroke-width="1.9"/>
<circle cx="673.3" cy="332" r="1.55" fill="#909090" stroke="#f4f4f4" stroke-width="1.9"/>
<circle cx="673.3" cy="342.4" r="1.55" fill="#909090" stroke="#f4f4f4" stroke-width="1.9"/>
<circle cx="673.3" cy="353.6" r="1.55" fill="#909090" stroke="#f4f4f4" stroke-width="1.9"/>
<circle cx="673.3" cy="364.4" r="1.55" fill="#909090" stroke="#f4f4f4" stroke-width="1.9"/>
<circle cx="673.3" cy="375.6" r="1.55" fill="#909090" stroke="#f4f4f4" stroke-width="1.9"/>
<circle cx="673.3" cy="387.4" r="1.55" fill="#909090" stroke="#f4f4f4" stroke-width="1.9"/>
</g>
<rect x="663.8" y="378" width="12" height="2.8" rx="0.8" fill="#f6f6f6"/>
<g clip-path="url(#c3)">
<circle cx="690.5" cy="324.2" r="2.05" fill="#3c3c3c" stroke="#f4f4f4" stroke-width="2"/>
<circle cx="690.5" cy="335.6" r="2.05" fill="#3c3c3c" stroke="#f4f4f4" stroke-width="2"/>
<circle cx="690.5" cy="346.7" r="2.05" fill="#3c3c3c" stroke="#f4f4f4" stroke-width="2"/>
<circle cx="690.5" cy="357.8" r="2.05" fill="#3c3c3c" stroke="#f4f4f4" stroke-width="2"/>
<circle cx="690.5" cy="368.7" r="2.05" fill="#3c3c3c" stroke="#f4f4f4" stroke-width="2"/>
<circle cx="690.5" cy="380.2" r="2.05" fill="#3c3c3c" stroke="#f4f4f4" stroke-width="2"/>
<circle cx="690.5" cy="390.7" r="2.05" fill="#3c3c3c" stroke="#f4f4f4" stroke-width="2"/>
<circle cx="701" cy="324.2" r="2.05" fill="#3c3c3c" stroke="#f4f4f4" stroke-width="2"/>
<circle cx="701" cy="335.6" r="2.05" fill="#3c3c3c" stroke="#f4f4f4" stroke-width="2"/>
<circle cx="701" cy="346.7" r="2.05" fill="#3c3c3c" stroke="#f4f4f4" stroke-width="2"/>
<circle cx="701" cy="357.8" r="2.05" fill="#3c3c3c" stroke="#f4f4f4" stroke-width="2"/>
<circle cx="701" cy="368.7" r="2.05" fill="#3c3c3c" stroke="#f4f4f4" stroke-width="2"/>
<circle cx="701" cy="380.2" r="2.05" fill="#3c3c3c" stroke="#f4f4f4" stroke-width="2"/>
<circle cx="701" cy="390.7" r="2.05" fill="#3c3c3c" stroke="#f4f4f4" stroke-width="2"/>
<circle cx="727.8" cy="324.2" r="2.05" fill="#3c3c3c" stroke="#f4f4f4" stroke-width="2"/>
<circle cx="727.8" cy="335.6" r="2.05" fill="#3c3c3c" stroke="#f4f4f4" stroke-width="2"/>
<circle cx="727.8" cy="346.7" r="2.05" fill="#3c3c3c" stroke="#f4f4f4" stroke-width="2"/>
<circle cx="727.8" cy="357.8" r="2.05" fill="#3c3c3c" stroke="#f4f4f4" stroke-width="2"/>
<circle cx="727.8" cy="368.7" r="2.05" fill="#3c3c3c" stroke="#f4f4f4" stroke-width="2"/>
<circle cx="727.8" cy="380.2" r="2.05" fill="#3c3c3c" stroke="#f4f4f4" stroke-width="2"/>
<circle cx="727.8" cy="390.7" r="2.05" fill="#3c3c3c" stroke="#f4f4f4" stroke-width="2"/>
<circle cx="738.1" cy="324.2" r="2.05" fill="#3c3c3c" stroke="#f4f4f4" stroke-width="2"/>
<circle cx="738.1" cy="335.6" r="2.05" fill="#3c3c3c" stroke="#f4f4f4" stroke-width="2"/>
<circle cx="738.1" cy="346.7" r="2.05" fill="#3c3c3c" stroke="#f4f4f4" stroke-width="2"/>
<circle cx="738.1" cy="357.8" r="2.05" fill="#3c3c3c" stroke="#f4f4f4" stroke-width="2"/>
<circle cx="738.1" cy="368.7" r="2.05" fill="#3c3c3c" stroke="#f4f4f4" stroke-width="2"/>
<circle cx="738.1" cy="380.2" r="2.05" fill="#3c3c3c" stroke="#f4f4f4" stroke-width="2"/>
<circle cx="738.1" cy="390.7" r="2.05" fill="#3c3c3c" stroke="#f4f4f4" stroke-width="2"/>
<circle cx="764.8" cy="324.2" r="2.05" fill="#3c3c3c" stroke="#f4f4f4" stroke-width="2"/>
<circle cx="764.8" cy="335.6" r="2.05" fill="#3c3c3c" stroke="#f4f4f4" stroke-width="2"/>
<circle cx="764.8" cy="346.7" r="2.05" fill="#3c3c3c" stroke="#f4f4f4" stroke-width="2"/>
<circle cx="764.8" cy="357.8" r="2.05" fill="#3c3c3c" stroke="#f4f4f4" stroke-width="2"/>
<circle cx="764.8" cy="368.7" r="2.05" fill="#3c3c3c" stroke="#f4f4f4" stroke-width="2"/>
<circle cx="764.8" cy="380.2" r="2.05" fill="#3c3c3c" stroke="#f4f4f4" stroke-width="2"/>
<circle cx="764.8" cy="390.7" r="2.05" fill="#3c3c3c" stroke="#f4f4f4" stroke-width="2"/>
<circle cx="709.8" cy="318.4" r="2.05" fill="#3c3c3c" stroke="#f4f4f4" stroke-width="2"/>
<circle cx="709.8" cy="327.2" r="2.05" fill="#3c3c3c" stroke="#f4f4f4" stroke-width="2"/>
<circle cx="709.8" cy="337.2" r="2.05" fill="#3c3c3c" stroke="#f4f4f4" stroke-width="2"/>
<circle cx="709.8" cy="347.3" r="2.05" fill="#3c3c3c" stroke="#f4f4f4" stroke-width="2"/>
<circle cx="709.8" cy="357.1" r="2.05" fill="#3c3c3c" stroke="#f4f4f4" stroke-width="2"/>
<circle cx="709.8" cy="366.3" r="2.05" fill="#3c3c3c" stroke="#f4f4f4" stroke-width="2"/>
<circle cx="709.8" cy="376" r="2.05" fill="#3c3c3c" stroke="#f4f4f4" stroke-width="2"/>
<circle cx="709.8" cy="385.6" r="2.05" fill="#3c3c3c" stroke="#f4f4f4" stroke-width="2"/>
<circle cx="709.8" cy="395" r="2.05" fill="#3c3c3c" stroke="#f4f4f4" stroke-width="2"/>
<circle cx="718.8" cy="318.4" r="2.05" fill="#3c3c3c" stroke="#f4f4f4" stroke-width="2"/>
<circle cx="718.8" cy="327.2" r="2.05" fill="#3c3c3c" stroke="#f4f4f4" stroke-width="2"/>
<circle cx="718.8" cy="337.2" r="2.05" fill="#3c3c3c" stroke="#f4f4f4" stroke-width="2"/>
<circle cx="718.8" cy="347.3" r="2.05" fill="#3c3c3c" stroke="#f4f4f4" stroke-width="2"/>
<circle cx="718.8" cy="357.1" r="2.05" fill="#3c3c3c" stroke="#f4f4f4" stroke-width="2"/>
<circle cx="718.8" cy="366.3" r="2.05" fill="#3c3c3c" stroke="#f4f4f4" stroke-width="2"/>
<circle cx="718.8" cy="376" r="2.05" fill="#3c3c3c" stroke="#f4f4f4" stroke-width="2"/>
<circle cx="718.8" cy="385.6" r="2.05" fill="#3c3c3c" stroke="#f4f4f4" stroke-width="2"/>
<circle cx="718.8" cy="395" r="2.05" fill="#3c3c3c" stroke="#f4f4f4" stroke-width="2"/>
<circle cx="747" cy="318.4" r="2.05" fill="#3c3c3c" stroke="#f4f4f4" stroke-width="2"/>
<circle cx="747" cy="327.2" r="2.05" fill="#3c3c3c" stroke="#f4f4f4" stroke-width="2"/>
<circle cx="747" cy="337.2" r="2.05" fill="#3c3c3c" stroke="#f4f4f4" stroke-width="2"/>
<circle cx="747" cy="347.3" r="2.05" fill="#3c3c3c" stroke="#f4f4f4" stroke-width="2"/>
<circle cx="747" cy="357.1" r="2.05" fill="#3c3c3c" stroke="#f4f4f4" stroke-width="2"/>
<circle cx="747" cy="366.3" r="2.05" fill="#3c3c3c" stroke="#f4f4f4" stroke-width="2"/>
<circle cx="747" cy="376" r="2.05" fill="#3c3c3c" stroke="#f4f4f4" stroke-width="2"/>
<circle cx="747" cy="385.6" r="2.05" fill="#3c3c3c" stroke="#f4f4f4" stroke-width="2"/>
<circle cx="747" cy="395" r="2.05" fill="#3c3c3c" stroke="#f4f4f4" stroke-width="2"/>
<circle cx="755.8" cy="318.4" r="2.05" fill="#3c3c3c" stroke="#f4f4f4" stroke-width="2"/>
<circle cx="755.8" cy="327.2" r="2.05" fill="#3c3c3c" stroke="#f4f4f4" stroke-width="2"/>
<circle cx="755.8" cy="337.2" r="2.05" fill="#3c3c3c" stroke="#f4f4f4" stroke-width="2"/>
<circle cx="755.8" cy="347.3" r="2.05" fill="#3c3c3c" stroke="#f4f4f4" stroke-width="2"/>
<circle cx="755.8" cy="357.1" r="2.05" fill="#3c3c3c" stroke="#f4f4f4" stroke-width="2"/>
<circle cx="755.8" cy="366.3" r="2.05" fill="#3c3c3c" stroke="#f4f4f4" stroke-width="2"/>
<circle cx="755.8" cy="376" r="2.05" fill="#3c3c3c" stroke="#f4f4f4" stroke-width="2"/>
<circle cx="755.8" cy="385.6" r="2.05" fill="#3c3c3c" stroke="#f4f4f4" stroke-width="2"/>
<circle cx="755.8" cy="395" r="2.05" fill="#3c3c3c" stroke="#f4f4f4" stroke-width="2"/>
</g>
<rect x="744.6" y="377.9" width="14.2" height="2.7" rx="1.1" fill="#f6f6f6"/>
<path d="M520.6 315 V398.4 H606.2" fill="none" stroke="#111" stroke-width="1.25" marker-start="url(#ah)" marker-end="url(#ah)"/>
<text x="509.8" y="327.5" font-size="11.8" text-anchor="start" font-weight="normal" font-style="italic" fill="#1a1a1a" >y</text>
<text x="593.9" y="411" font-size="12" text-anchor="start" font-weight="normal" font-style="italic" fill="#1a1a1a" >x</text>
</svg></body></html>
